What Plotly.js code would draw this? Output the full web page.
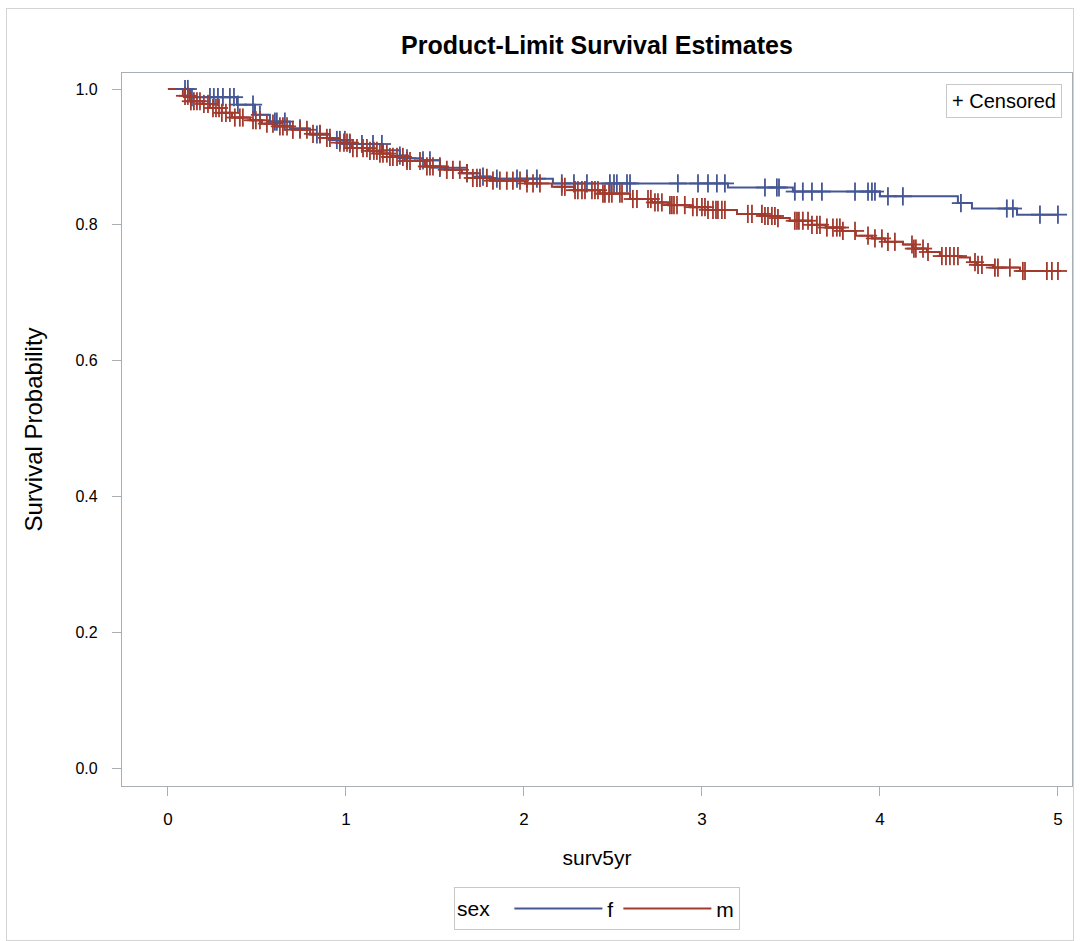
<!DOCTYPE html>
<html><head><meta charset="utf-8">
<script src="https://cdn.plot.ly/plotly-3.0.1.min.js"></script>
<style>
body{margin:0;background:#fff}
#chart{position:absolute;left:0;top:0;width:1080px;height:941px}
#frame{position:absolute;left:6px;top:8px;width:1066px;height:931px;border:1px solid #d4d4d4;pointer-events:none}
</style>
</head><body><div id="chart"></div><div id="frame"></div>
<script>
// Kaplan-Meier step data (time in years, survival after the event)
const fTimes=[0.124,0.388,0.489,0.573,0.685,0.798,0.910,1.006,1.208,1.303,1.343,1.433,1.528,1.680,1.753,1.809,2.163,3.146,3.511,4.000,4.438,4.517,4.770];
const fSurv=[0.988,0.977,0.962,0.952,0.942,0.933,0.925,0.919,0.910,0.902,0.898,0.895,0.884,0.876,0.871,0.868,0.861,0.855,0.849,0.842,0.832,0.824,0.815];
const mTimes=[0.084,0.124,0.197,0.236,0.303,0.360,0.461,0.528,0.612,0.702,0.798,0.893,0.966,1.034,1.124,1.191,1.247,1.331,1.444,1.556,1.652,1.713,1.809,2.006,2.157,2.287,2.427,2.596,2.719,2.809,2.933,3.034,3.197,3.354,3.427,3.494,3.618,3.697,3.787,3.865,3.955,4.028,4.129,4.185,4.264,4.337,4.449,4.506,4.545,4.635,4.787];
const mSurv=[0.990,0.982,0.978,0.972,0.965,0.958,0.954,0.949,0.945,0.940,0.934,0.928,0.921,0.913,0.909,0.905,0.900,0.894,0.886,0.881,0.876,0.869,0.865,0.861,0.856,0.851,0.846,0.838,0.833,0.829,0.826,0.822,0.816,0.813,0.810,0.806,0.800,0.796,0.791,0.784,0.780,0.775,0.771,0.765,0.760,0.754,0.752,0.745,0.741,0.737,0.732];
// censoring times
const fCens=[0.096,0.112,0.135,0.236,0.258,0.281,0.309,0.348,0.371,0.393,0.478,0.517,0.601,0.612,0.657,0.742,0.837,0.854,0.949,0.966,0.994,1.022,1.090,1.152,1.202,1.303,1.343,1.433,1.472,1.528,1.680,1.770,1.848,1.961,2.017,2.073,2.213,2.281,2.354,2.483,2.506,2.522,2.579,2.596,2.865,2.978,3.034,3.084,3.129,3.354,3.421,3.433,3.522,3.567,3.618,3.674,3.860,3.933,3.955,3.972,4.045,4.129,4.455,4.713,4.747,4.899,5.000];
const mCens=[0.096,0.112,0.129,0.146,0.163,0.180,0.202,0.225,0.253,0.270,0.287,0.303,0.326,0.348,0.376,0.404,0.421,0.478,0.494,0.517,0.556,0.590,0.629,0.646,0.669,0.702,0.742,0.781,0.815,0.854,0.893,0.910,0.966,0.989,1.006,1.022,1.039,1.062,1.096,1.118,1.135,1.157,1.174,1.191,1.208,1.230,1.247,1.264,1.287,1.320,1.343,1.360,1.416,1.455,1.472,1.489,1.528,1.567,1.601,1.640,1.680,1.713,1.736,1.753,1.792,1.826,1.865,1.904,1.938,1.978,2.017,2.051,2.090,2.213,2.230,2.287,2.303,2.326,2.343,2.382,2.399,2.416,2.444,2.455,2.478,2.494,2.539,2.551,2.612,2.635,2.697,2.713,2.736,2.753,2.775,2.820,2.831,2.843,2.860,2.904,2.949,2.972,3.000,3.017,3.034,3.062,3.079,3.090,3.112,3.129,3.258,3.281,3.337,3.354,3.371,3.393,3.410,3.427,3.522,3.534,3.545,3.567,3.596,3.618,3.646,3.663,3.702,3.736,3.758,3.775,3.792,3.860,3.933,3.972,4.011,4.045,4.084,4.180,4.191,4.202,4.242,4.270,4.348,4.371,4.393,4.416,4.438,4.534,4.551,4.573,4.646,4.663,4.730,4.803,4.815,4.938,4.966,5.000];
const endTime=5.0;
const xTicks=[0,1,2,3,4,5];
const yTicks=[0,0.2,0.4,0.6,0.8,1.0];
const yTickText=['0.0','0.2','0.4','0.6','0.8','1.0'];

const BLUE='#445694', RED='#A23A2E', AX='#a9aeb3';
function stepAt(times,surv,t){let v=1;for(let i=0;i<times.length;i++){if(times[i]<=t)v=surv[i];}return v;}
function curve(times,surv){return {x:[0].concat(times,[endTime]),y:[1].concat(surv,[surv[surv.length-1]])};}
const fc=curve(fTimes,fSurv), mc=curve(mTimes,mSurv);
function censTraces(c,times,surv,color){
  const y=c.map(t=>stepAt(times,surv,t));
  return ['line-ns','line-ew'].map(s=>({x:c,y:y,type:'scatter',mode:'markers',showlegend:false,hoverinfo:'skip',
    marker:{symbol:s,size:13,line:{color:color,width:1.8}}}));
}
const traces=[
 {x:fc.x,y:fc.y,type:'scatter',mode:'lines',name:'f',line:{color:BLUE,width:2,shape:'hv'}},
 {x:mc.x,y:mc.y,type:'scatter',mode:'lines',name:'m',line:{color:RED,width:2,shape:'hv'}}
].concat(censTraces(fCens,fTimes,fSurv,BLUE),censTraces(mCens,mTimes,mSurv,RED));
const font='Liberation Sans, Arial, sans-serif';
const layout={
 width:1080,height:941,
 margin:{l:122,r:8,t:73,b:155},
 paper_bgcolor:'rgba(0,0,0,0)',plot_bgcolor:'#fff',
 font:{family:font,color:'#000',size:16},
 title:{text:'<b>Product-Limit Survival Estimates</b>',xref:'paper',x:0.5,xanchor:'center',y:0.952,yanchor:'middle',font:{family:font,size:25,color:'#000'}},
 xaxis:{range:[-0.258,5.079],tickvals:xTicks,ticktext:xTicks.map(String),showgrid:false,zeroline:false,
   showline:true,mirror:true,linecolor:AX,linewidth:1.3,ticks:'outside',ticklen:9,tickcolor:AX,tickwidth:1.3,
   ticklabelstandoff:8,tickfont:{size:17},title:{text:'surv5yr',font:{size:21},standoff:22}},
 yaxis:{range:[-0.0265,1.0236],tickvals:yTicks,ticktext:yTickText,showgrid:false,zeroline:false,
   showline:true,mirror:true,linecolor:AX,linewidth:1.3,ticks:'outside',ticklen:9,tickcolor:AX,tickwidth:1.3,
   ticklabelstandoff:11,tickfont:{size:16},title:{text:'Survival Probability',font:{size:24},standoff:26}},
 showlegend:true,
 legend:{orientation:'h',x:0.5,xanchor:'center',y:-0.142,yanchor:'top',bordercolor:'#c8c8c8',borderwidth:1,
   title:{text:'sex  ',font:{size:21}},font:{size:21},itemwidth:88,tracegroupgap:0},
 annotations:[{xref:'paper',yref:'paper',x:1,y:1,xanchor:'right',yanchor:'top',xshift:-10,yshift:-11,
   text:'+ Censored',showarrow:false,font:{size:20,color:'#000'},bordercolor:'#c8c8c8',borderwidth:1,borderpad:5,bgcolor:'#fff'}]
};
Plotly.newPlot('chart',traces,layout,{displayModeBar:false});
</script>
</body></html>
